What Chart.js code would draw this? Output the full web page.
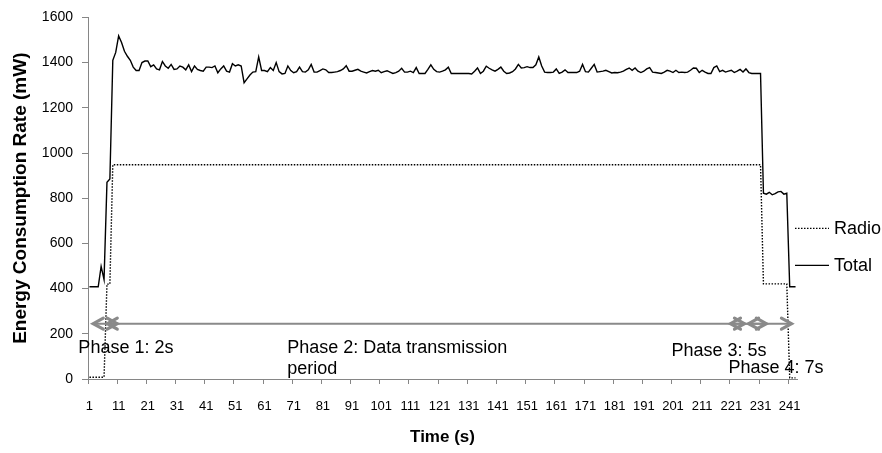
<!DOCTYPE html>
<html>
<head>
<meta charset="utf-8">
<title>Energy Consumption Rate</title>
<script src="https://cdn.jsdelivr.net/npm/chart.js@4.4.1/dist/chart.umd.min.js"></script>
<style>
  body { margin: 0; background: #fff; }
  #chart { display: block; }
</style>
</head>
<body>
<canvas id="chart" width="882" height="453"></canvas>
<script>
'use strict';
// categories: one per second, 1 .. 243
var seconds = [];
for (var s = 1; s <= 243; s++) {
    seconds.push(String(s));
}

// radio power (mW)
var radio = [
    8, 8, 8, 8, 8, 8, 420, 420, 948, 948, 948, 948, 948, 948, 948, 948, 948, 948, 948, 948,
    948, 948, 948, 948, 948, 948, 948, 948, 948, 948, 948, 948, 948, 948, 948, 948, 948, 948, 948, 948,
    948, 948, 948, 948, 948, 948, 948, 948, 948, 948, 948, 948, 948, 948, 948, 948, 948, 948, 948, 948,
    948, 948, 948, 948, 948, 948, 948, 948, 948, 948, 948, 948, 948, 948, 948, 948, 948, 948, 948, 948,
    948, 948, 948, 948, 948, 948, 948, 948, 948, 948, 948, 948, 948, 948, 948, 948, 948, 948, 948, 948,
    948, 948, 948, 948, 948, 948, 948, 948, 948, 948, 948, 948, 948, 948, 948, 948, 948, 948, 948, 948,
    948, 948, 948, 948, 948, 948, 948, 948, 948, 948, 948, 948, 948, 948, 948, 948, 948, 948, 948, 948,
    948, 948, 948, 948, 948, 948, 948, 948, 948, 948, 948, 948, 948, 948, 948, 948, 948, 948, 948, 948,
    948, 948, 948, 948, 948, 948, 948, 948, 948, 948, 948, 948, 948, 948, 948, 948, 948, 948, 948, 948,
    948, 948, 948, 948, 948, 948, 948, 948, 948, 948, 948, 948, 948, 948, 948, 948, 948, 948, 948, 948,
    948, 948, 948, 948, 948, 948, 948, 948, 948, 948, 948, 948, 948, 948, 948, 948, 948, 948, 948, 948,
    948, 948, 948, 948, 948, 948, 948, 948, 948, 948, 948, 421, 421, 421, 421, 421, 421, 421, 421, 421,
    5, 5, 5
];

// total power (mW)
var total = [
    408, 408, 408, 408, 498, 440, 870, 885, 1410, 1445, 1518, 1489, 1450, 1428, 1410, 1380, 1365, 1365, 1400, 1407,
    1407, 1382, 1390, 1372, 1368, 1405, 1385, 1375, 1392, 1370,
    1372, 1385, 1380, 1368, 1390, 1360, 1385, 1370, 1365, 1362,
    1380, 1380, 1378, 1385, 1355, 1372, 1385, 1362, 1358, 1395,
    1385, 1390, 1385, 1311, 1328, 1345, 1358, 1360, 1425, 1365,
    1365, 1360, 1378, 1365, 1400, 1360, 1350, 1352, 1385, 1365,
    1355, 1360, 1380, 1360, 1358, 1368, 1392, 1358, 1358, 1365,
    1372, 1368, 1356, 1356, 1358, 1360, 1365, 1372, 1386, 1362,
    1362, 1366, 1370, 1362, 1358, 1354, 1360, 1365, 1362, 1366,
    1355, 1360, 1364, 1358, 1352, 1356, 1362, 1375, 1358, 1358,
    1362, 1356, 1378, 1352, 1352, 1352, 1370, 1390, 1370, 1360,
    1358, 1362, 1368, 1380, 1352, 1352, 1352, 1352, 1352, 1352,
    1352, 1350, 1362, 1376, 1352, 1362, 1384, 1375, 1368, 1362,
    1370, 1380, 1362, 1352, 1354, 1360, 1372, 1392, 1376, 1378,
    1382, 1378, 1378, 1390, 1425, 1385, 1358, 1356, 1356, 1358,
    1372, 1352, 1358, 1368, 1356, 1356, 1356, 1356, 1362, 1392,
    1360, 1358, 1375, 1392, 1358, 1360, 1362, 1366, 1360, 1354,
    1356, 1355, 1358, 1362, 1370, 1376, 1366, 1376, 1362, 1356,
    1362, 1372, 1378, 1358, 1356, 1354, 1352, 1358, 1366, 1362,
    1356, 1366, 1356, 1358, 1356, 1358, 1366, 1376, 1375, 1356,
    1366, 1358, 1352, 1352, 1378, 1385, 1360, 1366, 1358, 1362,
    1366, 1356, 1362, 1370, 1358, 1372, 1356, 1352, 1352, 1352,
    1352, 822, 818, 826, 815, 820, 828, 830, 818, 822,
    408, 408, 408
];

var yTicks = [0, 200, 400, 600, 800, 1000, 1200, 1400, 1600];

// phase arrows (from / to category index) and their captions
var phaseArrows = [[1.3, 9.5], [6.1, 224.5], [219.7, 232.0], [225.9, 240.6]];
var arrowLevel = 245;
var phaseNotes = [
    { lines: ['Phase 1: 2s'], at: -3.8, level: 135 },
    { lines: ['Phase 2: Data transmission', 'period'], at: 67.8, level: 135 },
    { lines: ['Phase 3: 5s'], at: 199.5, level: 122 },
    { lines: ['Phase 4: 7s'], at: 219, level: 50 }
];

var axisGray = '#868686';
var fontFamily = '"Liberation Sans", Arial, sans-serif';
var textFont = '18px ' + fontFamily;

// draws the arrows, the phase captions and the legend on the right
var phasePlugin = {
    id: 'phases',
    afterDatasetsDraw: function (chart) {
        var ctx = chart.ctx;
        var xs = chart.scales.x;
        var ys = chart.scales.y;
        var y = ys.getPixelForValue(arrowLevel);
        ctx.save();
        ctx.strokeStyle = '#8a8a8a';
        ctx.lineCap = 'round';
        for (var i = 0; i < phaseArrows.length; i++) {
            var x1 = xs.getPixelForValue(phaseArrows[i][0]);
            var x2 = xs.getPixelForValue(phaseArrows[i][1]);
            ctx.lineWidth = 2;
            ctx.beginPath();
            ctx.moveTo(x1, y);
            ctx.lineTo(x2, y);
            ctx.stroke();
            ctx.lineWidth = 3.2;
            ctx.beginPath();
            ctx.moveTo(x1 + 10, y - 5.5);
            ctx.lineTo(x1, y);
            ctx.lineTo(x1 + 10, y + 5.5);
            ctx.moveTo(x2 - 10, y - 5.5);
            ctx.lineTo(x2, y);
            ctx.lineTo(x2 - 10, y + 5.5);
            ctx.stroke();
        }
        ctx.fillStyle = '#000';
        ctx.font = textFont;
        ctx.textAlign = 'left';
        ctx.textBaseline = 'middle';
        for (var n = 0; n < phaseNotes.length; n++) {
            var tx = xs.getPixelForValue(phaseNotes[n].at);
            var ty = ys.getPixelForValue(phaseNotes[n].level);
            for (var l = 0; l < phaseNotes[n].lines.length; l++) {
                ctx.fillText(phaseNotes[n].lines[l], tx, ty + l * 21);
            }
        }
        // legend
        var area = chart.chartArea;
        for (var d = 0; d < chart.data.datasets.length; d++) {
            var ds = chart.data.datasets[d];
            var ly = area.top + 211 + d * 37;
            ctx.strokeStyle = '#000';
            ctx.lineWidth = ds.borderWidth;
            ctx.lineCap = 'butt';
            ctx.setLineDash(ds.borderDash || []);
            ctx.beginPath();
            ctx.moveTo(area.right - 2, ly);
            ctx.lineTo(area.right + 32, ly);
            ctx.stroke();
            ctx.setLineDash([]);
            ctx.fillText(ds.label, area.right + 37, ly + 1);
        }
        ctx.restore();
    }
};

function tenthTick(c) {
    return (c.index !== undefined && c.index % 10 === 0) ? axisGray : 'rgba(0,0,0,0)';
}

var chart = new Chart(document.getElementById('chart'), {
    type: 'line',
    data: {
        labels: seconds,
        datasets: [
            {
                label: 'Radio',
                data: radio,
                borderColor: '#000',
                borderWidth: 1.4,
                borderDash: [1.5, 1.5],
                pointRadius: 0,
                tension: 0,
                fill: false
            },
            {
                label: 'Total',
                data: total,
                borderColor: '#000',
                borderWidth: 1.4,
                pointRadius: 0,
                tension: 0,
                fill: false
            }
        ]
    },
    options: {
        responsive: false,
        animation: false,
        events: [],
        layout: { padding: { top: 5, right: 85, bottom: 0, left: 0 } },
        plugins: {
            legend: { display: false },
            tooltip: { enabled: false }
        },
        scales: {
            x: {
                offset: true,
                afterFit: function (scale) { scale.height = 74; },
                border: { display: true, color: axisGray, width: 1 },
                grid: {
                    offset: true,
                    drawOnChartArea: false,
                    drawTicks: true,
                    tickLength: 5,
                    color: tenthTick,
                    tickColor: tenthTick
                },
                ticks: {
                    autoSkip: false,
                    maxRotation: 0,
                    minRotation: 0,
                    padding: 15,
                    color: '#000',
                    font: { family: fontFamily, size: 13 },
                    callback: function (value, index) {
                        return index % 10 === 0 ? seconds[index] : '';
                    }
                },
                title: {
                    display: true,
                    text: 'Time (s)',
                    color: '#000',
                    padding: { top: 0, bottom: 5 },
                    font: { family: fontFamily, size: 17, weight: 'bold' }
                }
            },
            y: {
                min: yTicks[0],
                max: yTicks[yTicks.length - 1],
                afterFit: function (scale) { scale.width = 88; },
                afterBuildTicks: function (scale) {
                    scale.ticks = yTicks.map(function (v) { return { value: v }; });
                },
                border: { display: true, color: axisGray, width: 1 },
                grid: {
                    drawOnChartArea: false,
                    drawTicks: true,
                    tickLength: 6,
                    color: axisGray
                },
                ticks: {
                    padding: 9,
                    color: '#000',
                    font: { family: fontFamily, size: 14 },
                    callback: function (value) { return String(value); }
                },
                title: {
                    display: true,
                    text: 'Energy Consumption Rate (mW)',
                    color: '#000',
                    padding: { top: 9, bottom: 0 },
                    font: { family: fontFamily, size: 19, weight: 'bold' }
                }
            }
        }
    },
    plugins: [phasePlugin]
});
</script>
</body>
</html>
